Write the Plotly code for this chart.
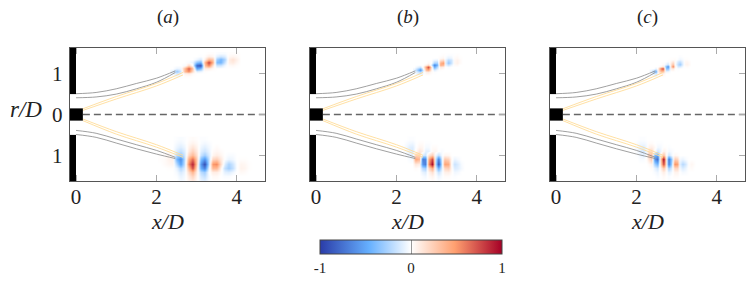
import plotly.graph_objects as go

# ---- wave-packet fields (percent of full scale) ----
A_TOP_X = [2.4,2.5,2.6,2.7,2.8,2.9,3.0,3.1,3.2,3.3,3.4,3.5,3.6,3.7,3.8,3.9,4.0,4.1]
A_TOP_R = [1.49,1.42,1.35,1.28,1.21,1.14,1.07,1.00,0.93]
A_TOP_Z = [
 [0,0,0,0,0,0,0,0,0,1,1,-1,-2,-2,1,1,1,0],
 [0,0,0,0,0,0,0,-1,1,8,5,-8,-14,-10,3,5,3,0],
 [0,0,0,0,0,0,-5,-12,8,35,28,-28,-42,-25,8,14,7,0],
 [0,0,0,0,-2,-6,-35,-45,35,80,40,-38,-42,-16,7,10,4,0],
 [0,0,0,-3,20,0,-80,-90,30,55,14,-14,-14,-4,2,3,1,0],
 [0,-6,-5,35,70,30,-50,-40,8,8,2,0,0,0,0,0,0,0],
 [-7,-32,-14,35,55,16,-8,-5,1,0,0,0,0,0,0,0,0,0],
 [-3,-12,-5,6,9,2,0,0,0,0,0,0,0,0,0,0,0,0],
 [0,-2,-1,1,1,0,0,0,0,0,0,0,0,0,0,0,0,0],
]
A_BOT_X = [2.1,2.2,2.3,2.4,2.5,2.6,2.7,2.8,2.9,3.0,3.1,3.2,3.3,3.4,3.5,3.6,3.7,3.8,3.9,4.0,4.1,4.2,4.3,4.4]
A_BOT_R = [-0.6,-0.7,-0.8,-0.9,-1.0,-1.1,-1.2,-1.3,-1.4,-1.5,-1.6,-1.7]
A_BOT_Z = [
 [0,0,0,0,-1,-2,-1,1,2,1,-1,-1,0,0,0,0,0,0,0,0,0,0,0,0],
 [0,0,0,0,-3,-5,-2,3,6,3,-2,-4,-2,0,0,0,0,0,0,0,0,0,0,0],
 [0,0,0,0,-6,-10,-5,6,13,6,-5,-9,-4,0,2,0,0,0,0,0,0,0,0,0],
 [0,1,2,0,-11,-18,-9,10,22,10,-9,-15,-7,2,4,2,0,0,0,0,0,0,0,0],
 [1,2,5,3,-22,-32,-13,20,35,16,-16,-28,-12,5,9,5,0,-2,-2,0,0,0,0,0],
 [1,2,6,7,-42,-62,-18,40,65,26,-36,-58,-20,20,24,11,-1,-6,-4,0,1,1,0,0],
 [0,2,4,5,-22,-52,-16,55,90,28,-55,-92,-22,50,55,18,-10,-25,-15,-1,5,4,1,0],
 [0,0,1,1,-7,-24,-10,35,75,18,-45,-68,-10,35,35,7,-18,-28,-18,-1,6,5,1,0],
 [0,0,0,0,-3,-12,-5,18,38,9,-20,-28,-2,9,9,2,-8,-10,-5,0,3,2,0,0],
 [0,0,0,0,-1,-7,-3,10,22,5,-12,-18,-3,3,3,0,-2,-2,0,0,0,0,0,0],
 [0,0,0,0,0,-4,-2,6,12,3,-7,-10,-2,1,1,0,0,0,0,0,0,0,0,0],
 [0,0,0,0,0,-2,0,3,6,2,-4,-5,-1,0,0,0,0,0,0,0,0,0,0,0],
]
B_TOP_X = [2.45,2.52,2.59,2.66,2.73,2.80,2.87,2.94,3.01,3.08,3.15,3.22,3.29,3.36,3.43,3.50,3.57,3.64]
B_TOP_R = [1.46,1.40,1.34,1.28,1.22,1.16,1.10,1.04,0.98]
B_TOP_Z = [
 [0,0,0,0,0,0,0,0,0,0,1,0,-1,-1,0,1,0,0],
 [0,0,0,0,0,0,0,0,0,2,4,-2,-7,-5,2,3,1,0],
 [0,0,0,0,0,0,0,-5,-6,12,18,-5,-20,-14,3,6,3,0],
 [0,0,0,0,0,3,0,-25,-25,38,48,-8,-32,-16,4,7,3,0],
 [0,0,0,0,7,16,-12,-68,-42,42,36,-5,-16,-6,2,3,0,0],
 [0,-6,-12,7,52,78,14,-48,-20,11,7,0,-2,0,0,0,0,0],
 [-7,-30,-58,-7,38,44,7,-11,-3,1,0,0,0,0,0,0,0,0],
 [-2,-12,-22,-3,8,9,2,-1,0,0,0,0,0,0,0,0,0,0],
 [0,-2,-3,0,1,1,0,0,0,0,0,0,0,0,0,0,0,0],
]
B_BOT_X = [2.16,2.24,2.32,2.40,2.48,2.56,2.64,2.72,2.80,2.88,2.96,3.04,3.12,3.20,3.28,3.36,3.44,3.52,3.60,3.68]
B_BOT_R = [-0.6,-0.7,-0.8,-0.9,-1.0,-1.1,-1.2,-1.3,-1.4,-1.5,-1.6]
B_BOT_Z = [
 [0,0,-1,-1,0,0,0,0,0,0,0,0,0,0,0,0,0,0,0,0],
 [0,-2,-4,-5,-1,2,2,-1,-1,0,0,0,0,0,0,0,0,0,0,0],
 [-1,-4,-9,-10,-1,5,4,-3,-3,2,2,0,0,0,0,0,0,0,0,0],
 [0,-3,-9,-12,1,13,7,-8,-8,4,5,0,-2,0,0,0,0,0,0,0],
 [0,-1,-5,-9,22,24,-12,-16,12,26,-4,-18,-4,5,4,0,0,0,0,0],
 [0,0,-2,-3,45,35,-70,-65,40,78,-15,-68,-15,28,22,2,-6,-3,0,0],
 [0,0,0,0,12,8,-58,-70,50,100,-20,-88,-22,46,42,0,-16,-11,-2,0],
 [0,0,0,0,2,0,-22,-28,18,44,-8,-44,-14,20,24,3,-11,-9,-3,0],
 [0,0,0,0,0,0,-7,-10,5,16,-2,-16,-5,7,8,2,-4,-3,0,0],
 [0,0,0,0,0,0,-2,-4,2,6,0,-6,-2,2,2,0,-1,0,0,0],
 [0,0,0,0,0,0,-1,-1,0,2,0,-2,0,0,0,0,0,0,0,0],
]
C_TOP_X = [2.36,2.42,2.48,2.54,2.60,2.66,2.72,2.78,2.84,2.90,2.96,3.02,3.08,3.14,3.20,3.26,3.32]
C_TOP_R = [1.42,1.36,1.30,1.24,1.18,1.12,1.06,1.00,0.94]
C_TOP_Z = [
 [0,0,0,0,0,0,0,0,0,0,0,0,-1,0,0,0,0],
 [0,0,0,0,0,0,0,0,1,1,2,-2,-5,-2,1,1,0],
 [0,0,0,0,0,0,0,-2,5,12,2,-12,-17,-5,3,4,1],
 [0,0,0,0,0,2,-7,-16,14,32,1,-20,-30,-7,4,6,2],
 [0,0,0,0,5,12,-36,-62,20,58,7,-11,-11,-2,1,2,0],
 [0,0,-7,7,58,78,-32,-38,7,11,1,-1,0,0,0,0,0],
 [-7,-30,-48,7,32,32,-5,-4,0,0,0,0,0,0,0,0,0],
 [-2,-8,-14,2,6,6,0,0,0,0,0,0,0,0,0,0,0],
 [0,-1,-2,0,1,1,0,0,0,0,0,0,0,0,0,0,0],
]
C_BOT_X = [1.96,2.03,2.10,2.17,2.24,2.31,2.38,2.45,2.52,2.59,2.66,2.73,2.80,2.87,2.94,3.01,3.08,3.15,3.22,3.29,3.36,3.43]
C_BOT_R = [-0.6,-0.7,-0.8,-0.9,-1.0,-1.1,-1.2,-1.3,-1.4,-1.5,-1.6]
C_BOT_Z = [
 [0,0,-1,-1,0,0,0,0,0,0,0,0,0,0,0,0,0,0,0,0,0,0],
 [0,-2,-4,-4,-2,2,2,0,-1,-1,0,0,0,0,0,0,0,0,0,0,0,0],
 [-1,-4,-8,-10,-3,6,8,3,-4,-3,1,1,-1,0,0,0,0,0,0,0,0,0],
 [0,-3,-10,-13,-3,16,20,0,-14,-6,7,4,-4,-2,0,0,0,0,0,0,0,0],
 [0,-1,-5,-8,0,28,32,-40,-52,7,32,7,-16,-4,4,2,0,0,0,0,0,0],
 [0,0,-2,-2,2,12,26,-58,-78,26,100,26,-72,-30,26,20,-3,-6,-2,0,0,0],
 [0,0,0,0,0,2,6,-26,-42,20,78,26,-68,-26,52,46,-8,-22,-13,1,4,1],
 [0,0,0,0,0,0,2,-7,-14,7,28,10,-26,-11,20,20,-3,-11,-6,1,2,0],
 [0,0,0,0,0,0,0,-2,-5,2,9,3,-8,-3,6,6,0,-3,-2,0,0,0],
 [0,0,0,0,0,0,0,0,-2,0,3,1,-2,0,2,2,0,0,0,0,0,0],
 [0,0,0,0,0,0,0,0,0,0,1,0,-1,0,0,0,0,0,0,0,0,0],
]

# ---- contour lines (same in each panel) ----
GRAY_X = [0.0, 0.5, 1.0, 1.5, 2.0, 2.47]
GRAY_TOP_OUTER = [0.51, 0.54, 0.63, 0.76, 0.89, 1.07]
GRAY_TOP_INNER = [0.41, 0.43, 0.50, 0.63, 0.79, 1.03]
GRAY_BOT_INNER = [-0.39, -0.46, -0.60, -0.74, -0.88, -1.05]
GRAY_BOT_OUTER = [-0.49, -0.56, -0.70, -0.84, -0.97, -1.08]
ORANGE_X = [0.17, 1.0, 2.0, 2.66]
ORANGE_TOP_A = [0.14, 0.44, 0.76, 1.03]
ORANGE_TOP_B = [0.10, 0.38, 0.70, 0.97]
ORANGE_BOT_A = [-0.11, -0.42, -0.74, -1.00]
ORANGE_BOT_B = [-0.15, -0.48, -0.80, -1.05]
CENTER_X = [0.17, 4.7]
CENTER_R = [0, 0]

PANEL_TITLES = ["(<i>a</i>)", "(<i>b</i>)", "(<i>c</i>)"]
X_TICKS = [0, 2, 4]
R_TICKS = [-1, 0, 1]
R_LABELS = ["1", "0", "1"]
CB_TICKS = [-1, 0, 1]
CB_LABELS = ["-1", "0", "1"]

W, H = 746, 282
FONT = "Liberation Serif"
LEFTS = [70, 310, 550]
PW, TOP, BOTTOM = 195, 48, 181
XR = [-0.15, 4.7]
RR = [-1.63, 1.63]

SCALE = [[0, "#2a3ca8"], [0.27, "#66b0ff"], [0.5, "#ffffff"], [0.74, "#ffa070"], [1, "#a50026"]]

FIELDS = [
    [(A_TOP_X, A_TOP_R, A_TOP_Z), (A_BOT_X, A_BOT_R, A_BOT_Z)],
    [(B_TOP_X, B_TOP_R, B_TOP_Z), (B_BOT_X, B_BOT_R, B_BOT_Z)],
    [(C_TOP_X, C_TOP_R, C_TOP_Z), (C_BOT_X, C_BOT_R, C_BOT_Z)],
]

fig = go.Figure()
layout = dict(
    width=W, height=H, margin=dict(l=0, r=0, t=0, b=0, autoexpand=False),
    paper_bgcolor="white", plot_bgcolor="white", showlegend=False,
    font=dict(family=FONT, color="#222"),
    coloraxis=dict(
        cmin=-1, cmax=1, colorscale=SCALE,
        colorbar=dict(
            orientation="h", lenmode="pixels", len=182, thickness=14,
            thicknessmode="pixels", x=411 / W, xanchor="center",
            y=1 - 240 / H, yanchor="top", xpad=0, ypad=0,
            outlinecolor="#444", outlinewidth=1,
            tickmode="array", tickvals=CB_TICKS, ticktext=CB_LABELS,
            ticks="inside", ticklen=14, tickcolor="#999", tickwidth=1,
            tickfont=dict(family=FONT, size=15, color="#222"),
        ),
    ),
)
annotations, shapes = [], []
for i, left in enumerate(LEFTS):
    sx = "" if i == 0 else str(i + 1)
    xa, ya = "x" + sx, "y" + sx
    layout["xaxis" + sx] = dict(
        domain=[left / W, (left + PW) / W], range=XR, anchor=ya,
        tickmode="array", tickvals=X_TICKS, ticks="inside", ticklen=6, tickcolor="#aaa",
        tickfont=dict(family=FONT, size=21, color="#222"), ticklabelstandoff=-3,
        showgrid=False, zeroline=False, showline=True, linecolor="#555", linewidth=1.4, mirror="ticks",
    )
    layout["yaxis" + sx] = dict(
        domain=[1 - BOTTOM / H, 1 - TOP / H], range=RR, anchor=xa,
        tickmode="array", tickvals=R_TICKS, ticktext=R_LABELS, ticks="inside", ticklen=6, tickcolor="#aaa",
        showticklabels=(i == 0), tickfont=dict(family=FONT, size=21, color="#222"), ticklabelstandoff=2,
        showgrid=False, zeroline=False, showline=True, linecolor="#555", linewidth=1.4, mirror="ticks",
    )
    for fx, fr, fz in FIELDS[i]:
        fig.add_trace(go.Heatmap(
            x=fx, y=fr, z=[[v / 100 for v in row] for row in fz],
            coloraxis="coloraxis", zsmooth="best", xaxis=xa, yaxis=ya, hoverinfo="skip",
        ))
    for ys in (GRAY_TOP_OUTER, GRAY_TOP_INNER, GRAY_BOT_INNER, GRAY_BOT_OUTER):
        fig.add_trace(go.Scatter(x=GRAY_X, y=ys, mode="lines", xaxis=xa, yaxis=ya,
                                 line=dict(color="#888", width=0.8, shape="spline")))
    for ys in (ORANGE_TOP_A, ORANGE_TOP_B, ORANGE_BOT_A, ORANGE_BOT_B):
        fig.add_trace(go.Scatter(x=ORANGE_X, y=ys, mode="lines", xaxis=xa, yaxis=ya,
                                 line=dict(color="#ffdc98", width=0.9, shape="spline")))
    fig.add_trace(go.Scatter(x=CENTER_X, y=CENTER_R, mode="lines", xaxis=xa, yaxis=ya,
                             line=dict(color="#666", width=1.6, dash="7px,4px")))
    # nozzle and walls
    for x0, x1, y0, y1 in [(-0.15, 0.0, 0.5, 1.63), (-0.15, 0.0, -1.63, -0.5), (-0.15, 0.17, -0.15, 0.15)]:
        shapes.append(dict(type="rect", xref=xa, yref=ya, x0=x0, x1=x1, y0=y0, y1=y1,
                           fillcolor="black", line=dict(width=0), layer="above"))
    cx = (left + PW / 2) / W
    annotations.append(dict(text=PANEL_TITLES[i], x=cx, y=1 - 17 / H, xref="paper", yref="paper",
                            xanchor="center", yanchor="middle", showarrow=False,
                            font=dict(family=FONT, size=19, color="#222")))
    annotations.append(dict(text="<i>x/D</i>", x=cx, y=1 - 221 / H, xref="paper", yref="paper",
                            xanchor="center", yanchor="middle", showarrow=False,
                            font=dict(family=FONT, size=22, color="#222")))
annotations.append(dict(text="<i>r/D</i>", x=25.5 / W, y=1 - 109 / H, xref="paper", yref="paper",
                        xanchor="center", yanchor="middle", showarrow=False,
                        font=dict(family=FONT, size=23, color="#222")))
layout["annotations"] = annotations
layout["shapes"] = shapes
fig.update_layout(**layout)
fig.write_html("out.html", config={"displayModeBar": False}, post_script="document.body.style.margin='0';")
